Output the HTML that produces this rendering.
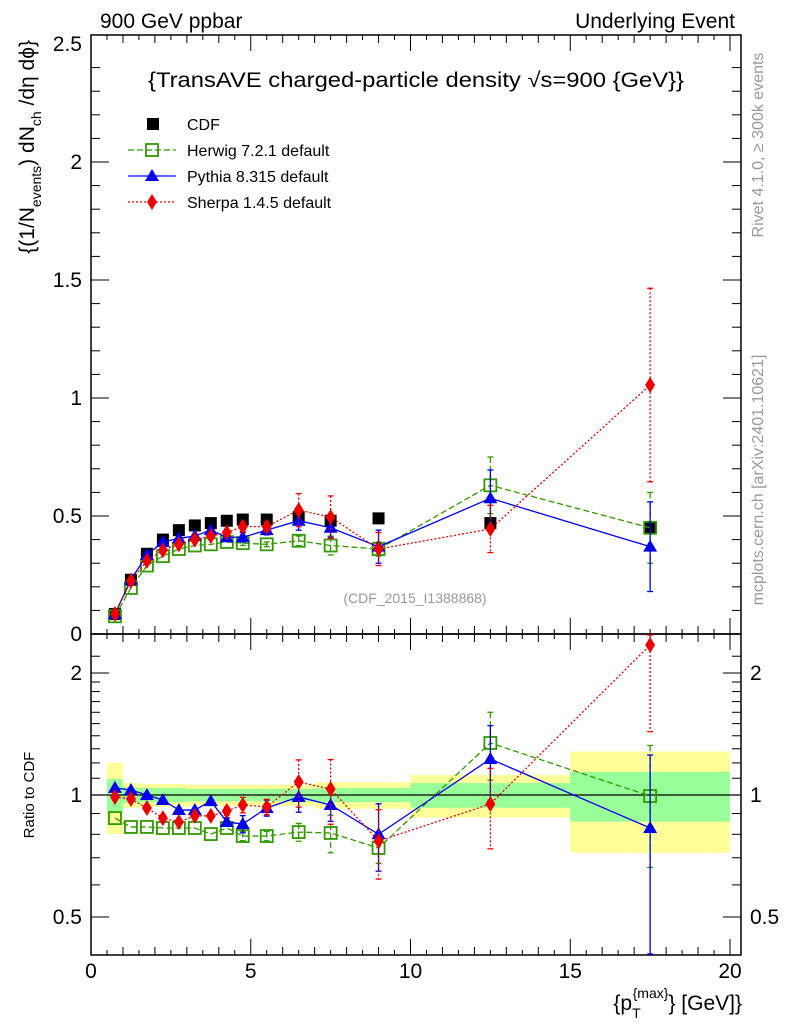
<!DOCTYPE html>
<html><head><meta charset="utf-8"><style>
body{margin:0;background:#fff}
svg{display:block;font-family:"Liberation Sans",sans-serif}
</style></head><body>
<svg id="c" width="786" height="1024" viewBox="0 0 786 1024"></svg>
<script>
const xs=[0.75,1.25,1.75,2.25,2.75,3.25,3.75,4.25,4.75,5.5,6.5,7.5,9,12.5,17.5];
const cdf=[0.085,0.23,0.34,0.40,0.44,0.46,0.47,0.48,0.485,0.485,0.495,0.48,0.49,0.47,0.45];
const herwig=[0.075,0.195,0.29,0.33,0.36,0.375,0.38,0.39,0.385,0.38,0.395,0.375,0.36,0.63,0.45];
const pythia=[0.085,0.23,0.335,0.39,0.405,0.415,0.44,0.41,0.41,0.44,0.48,0.45,0.37,0.575,0.37];
const sherpa=[0.085,0.225,0.31,0.355,0.38,0.4,0.415,0.43,0.455,0.455,0.525,0.495,0.36,0.445,1.055];
const herwigErr=[0,0,0,0,0,0,0,0,0.01,0.01,0.02,0.04,0.03,0.12,0.15];
const pythiaErr=[0,0,0,0,0,0,0,0.01,0.02,0.02,0.04,0.04,0.07,0.12,0.19];
const sherpaErr=[0,0,0,0,0,0,0,0.01,0.02,0.02,0.07,0.09,0.07,0.1,0.41];
const herwigR=[0.877,0.834,0.834,0.829,0.829,0.829,0.801,0.829,0.792,0.792,0.810,0.806,0.740,1.344,0.994];
const pythiaR=[1.041,1.029,1.0,0.972,0.918,0.918,0.966,0.858,0.848,0.929,0.989,0.945,0.80,1.227,0.829];
const sherpaR=[0.989,0.978,0.929,0.877,0.858,0.888,0.888,0.913,0.945,0.935,1.077,1.035,0.77,0.95,2.345];
const binLo=[0.5,1,1.5,2,2.5,3,3.5,4,4.5,5,6,7,8,10,15];
const binHi=[1,1.5,2,2.5,3,3.5,4,4.5,5,6,7,8,10,15,20];
const bandY=[0.2,0.07,0.065,0.065,0.065,0.06,0.06,0.06,0.06,0.06,0.06,0.075,0.075,0.12,0.28];
const bandG=[0.095,0.045,0.04,0.04,0.04,0.035,0.035,0.035,0.035,0.035,0.035,0.04,0.04,0.07,0.14];
const yTicks=[0.5,1,1.5,2,2.5];
const yTickLabels=["0.5","1","1.5","2","2.5"];
const xTicks=[0,5,10,15,20];
const rTicks=[0.5,1,2];

const S='http://www.w3.org/2000/svg';
const svg=document.getElementById('c');
function el(t,a,p){const e=document.createElementNS(S,t);for(const k in a)e.setAttribute(k,a[k]);(p||svg).appendChild(e);return e;}
const L=91,R=741;
const X=v=>L+(v)*(730-L)/20;
const Y=v=>634-v*236;
const YR=v=>795-122*Math.log2(v);
const T1=35,B1=634,T2=634,B2=955;

for(let i=0;i<binLo.length;i++){
  const r=el('rect',{x:X(binLo[i]),y:YR(1+bandY[i]),width:X(binHi[i])-X(binLo[i]),height:YR(1-bandY[i])-YR(1+bandY[i]),fill:'#ffff99'});
  
  
  const g=el('rect',{x:X(binLo[i]),y:YR(1+bandG[i]),width:X(binHi[i])-X(binLo[i]),height:YR(1-bandG[i])-YR(1+bandG[i]),fill:'#99ff99'});
  
  
}
el('line',{x1:L,x2:R,y1:YR(1),y2:YR(1),stroke:'#000','stroke-width':1.2});

el('rect',{x:L,y:T1,width:R-L,height:B1-T1,fill:'none',stroke:'#000','stroke-width':1.5});
el('rect',{x:L,y:T2,width:R-L,height:B2-T2,fill:'none',stroke:'#000','stroke-width':1.5});

for(let v=0;v<=20.01;v+=1){
  const big=v%5===0, len=big?16:8;
  [[B1,-1],[T1,1],[B2,-1],[T2,1]].forEach(([y,d])=>el('line',{x1:X(v),x2:X(v),y1:y,y2:y+d*len,stroke:'#000','stroke-width':1}));
}
for(let v=0.5;v<20;v+=1){
  [[B1,-1],[T1,1],[B2,-1],[T2,1]].forEach(([y,d])=>el('line',{x1:X(v),x2:X(v),y1:y,y2:y+d*5,stroke:'#000','stroke-width':1}));
}
xTicks.forEach(v=>{const t=el('text',{x:X(v),y:978,'font-size':21,'text-anchor':'middle'});t.textContent=v;

});
for(let v=0;v<=2.5;v+=0.1){const big=Math.abs(v*2-Math.round(v*2))<1e-6;const len=big?18:9;
  el('line',{x1:L,x2:L+len,y1:Y(v),y2:Y(v),stroke:'#000'});el('line',{x1:R,x2:R-len,y1:Y(v),y2:Y(v),stroke:'#000'});}
yTicks.forEach((v,i)=>{const t=el('text',{x:82,y:Y(v)+7,'font-size':21,'text-anchor':'end'});t.textContent=yTickLabels[i];

});
{const t=el('text',{x:82,y:641,'font-size':21,'text-anchor':'end'});t.textContent='0';}
[0.4,0.5,0.6,0.7,0.8,0.9,1,1.1,1.2,1.3,1.4,1.5,1.6,1.7,1.8,1.9,2,2.2].forEach(v=>{const y=YR(v);if(y<T2||y>B2)return;
 const big=rTicks.includes(v);const len=big?18:9;
 el('line',{x1:L,x2:L+len,y1:y,y2:y,stroke:'#000'});el('line',{x1:R,x2:R-len,y1:y,y2:y,stroke:'#000'});});
rTicks.forEach(v=>{[[82,'end'],[750,'start']].forEach(([x,a])=>{const t=el('text',{x:x,y:YR(v)+7,'font-size':21,'text-anchor':a});t.textContent=v;

});});

function series(vals,errs,Yf,color,dash,marker,name,main){
  const g=el('g',{});
  
  
  el('polyline',{points:xs.map((x,i)=>X(x)+','+Yf(vals[i])).join(' '),fill:'none',stroke:color,'stroke-width':1.3,'stroke-dasharray':dash},g);
  xs.forEach((x,i)=>{
    const e=errs?errs[i]:0;
    if(e>0){let y1,y2;
      if(main){const rel=e/main[i];y1=Yf(vals[i]*(1+rel));y2=rel>=0.99?B2:Yf(vals[i]*(1-rel));}
      else{y1=Yf(vals[i]+e);y2=Yf(vals[i]-e);}
      const top=main?T2+1:T1+1, bot=main?B2-1:B1-1;
      y1=Math.max(y1,top);y2=Math.min(y2,bot);
      el('line',{x1:X(x),x2:X(x),y1:y1,y2:y2,stroke:color,'stroke-width':1.3,'stroke-dasharray':dash},g);
      el('line',{x1:X(x)-3,x2:X(x)+3,y1:y1,y2:y1,stroke:color,'stroke-width':1.3},g);
      el('line',{x1:X(x)-3,x2:X(x)+3,y1:y2,y2:y2,stroke:color,'stroke-width':1.3},g);}
    marker(X(x),Yf(vals[i]),g);
  });
}
const sq=(x,y,g)=>el('rect',{x:x-6,y:y-6,width:12,height:12,fill:'#fff','fill-opacity':0,stroke:'#339900','stroke-width':1.8},g);
const tri=(x,y,g)=>el('polygon',{points:`${x},${y-7} ${x-7},${y+5} ${x+7},${y+5}`,fill:'#0000ee'},g);
const dia=(x,y,g)=>el('polygon',{points:`${x},${y-8} ${x-5},${y} ${x},${y+8} ${x+5},${y}`,fill:'#ee0000'},g);
xs.forEach((x,i)=>{const r=el('rect',{x:X(x)-6,y:Y(cdf[i])-6,width:12,height:12,fill:'#000'});

});
series(herwig,herwigErr,Y,'#339900','6,3',sq,'herwig-series',null);
series(pythia,pythiaErr,Y,'#0000ee','',tri,'pythia-series',null);
series(sherpa,sherpaErr,Y,'#ee0000','2,2',dia,'sherpa-series',null);
series(herwigR,herwigErr,YR,'#339900','6,3',sq,'herwig-ratio',herwig);
series(pythiaR,pythiaErr,YR,'#0000ee','',tri,'pythia-ratio',pythia);
series(sherpaR,sherpaErr,YR,'#ee0000','2,2',dia,'sherpa-ratio',sherpa);

const lg=el('g',{});


const ent=[['CDF'],['Herwig 7.2.1 default'],['Pythia 8.315 default'],['Sherpa 1.4.5 default']];
ent.forEach((e,i)=>{const y=124+i*26;
 if(i===0)el('rect',{x:147,y:y-6,width:12,height:12,fill:'#000'},lg);
 if(i===1){el('line',{x1:128,x2:176,y1:y,y2:y,stroke:'#339900','stroke-dasharray':'6,3','stroke-width':1.3},lg);sq(152,y,lg);}
 if(i===2){el('line',{x1:128,x2:176,y1:y,y2:y,stroke:'#0000ee','stroke-width':1.3},lg);tri(152,y,lg);}
 if(i===3){el('line',{x1:128,x2:176,y1:y,y2:y,stroke:'#ee0000','stroke-dasharray':'2,2','stroke-width':1.3},lg);dia(152,y,lg);}
 const t=el('text',{x:187,y:y+6,'font-size':16},lg);t.textContent=e[0];
});
</script>
<svg width="786" height="1024" style="position:absolute;left:0;top:0;font-family:'Liberation Sans',sans-serif">
<text x="100" y="28" font-size="21">900 GeV ppbar</text>
<text x="735" y="28" font-size="21" text-anchor="end">Underlying Event</text>
<text x="148" y="87" font-size="21" textLength="536" lengthAdjust="spacingAndGlyphs">{TransAVE charged-particle density √s=900 {GeV}}</text>
<text x="415" y="603" font-size="14" fill="#999" text-anchor="middle">(CDF_2015_I1388868)</text>
<text x="742" y="1010" font-size="21" text-anchor="end">{p<tspan font-size="14" dy="8">T</tspan><tspan font-size="14" dy="-20" dx="-8">{max}</tspan><tspan dy="12">} [GeV]}</tspan></text>
<text transform="translate(34,40) rotate(-90)" font-size="21" text-anchor="end">{(1/N<tspan font-size="14" dy="7">events</tspan><tspan dy="-7">) dN</tspan><tspan font-size="14" dy="7">ch</tspan><tspan dy="-7"> /dη  dϕ}</tspan></text>
<text transform="translate(34,795) rotate(-90)" font-size="15" text-anchor="middle">Ratio to CDF</text>
<text transform="translate(763,145) rotate(-90)" font-size="16" fill="#999" text-anchor="middle">Rivet 4.1.0, ≥ 300k events</text>
<text transform="translate(763,480) rotate(-90)" font-size="16" fill="#999" text-anchor="middle">mcplots.cern.ch [arXiv:2401.10621]</text>
</svg>
</body></html>
